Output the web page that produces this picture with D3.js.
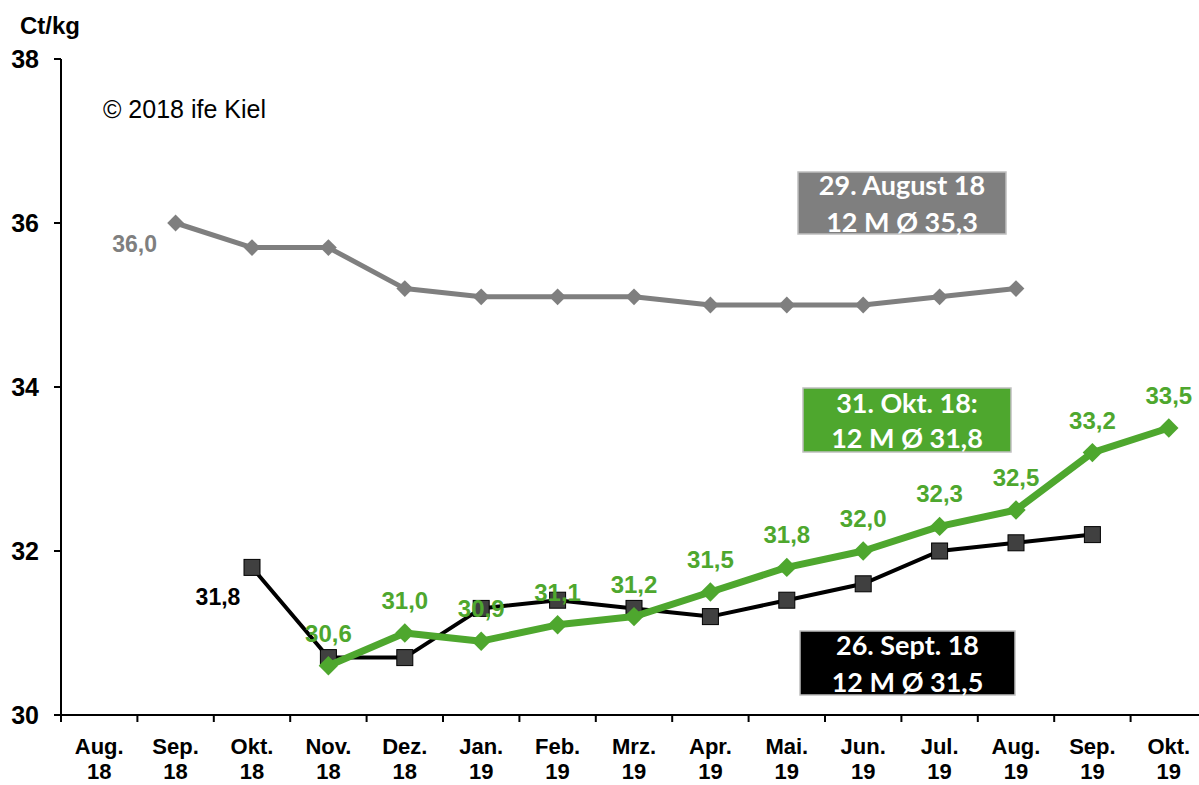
<!DOCTYPE html>
<html>
<head>
<meta charset="utf-8">
<script src="https://cdn.jsdelivr.net/npm/d3@7"></script>
<style>
  body { margin: 0; background: #fff; }
  svg { display: block; font-family: "Liberation Sans", Arial, sans-serif; }
</style>
</head>
<body>
<div id="chart"></div>
<script>
// chart size
let width = 1199
let height = 785

// categories and series (Ct/kg)
let months = ["Aug. 18", "Sep. 18", "Okt. 18", "Nov. 18", "Dez. 18", "Jan. 19", "Feb. 19", "Mrz. 19",
  "Apr. 19", "Mai. 19", "Jun. 19", "Jul. 19", "Aug. 19", "Sep. 19", "Okt. 19"]
let augustValues = [null, 36.0, 35.7, 35.7, 35.2, 35.1, 35.1, 35.1, 35.0, 35.0, 35.0, 35.1, 35.2, null, null]
let septValues = [null, null, 31.8, 30.7, 30.7, 31.3, 31.4, 31.3, 31.2, 31.4, 31.6, 32.0, 32.1, 32.2, null]
let oktValues = [null, null, null, 30.6, 31.0, 30.9, 31.1, 31.2, 31.5, 31.8, 32.0, 32.3, 32.5, 33.2, 33.5]
let yTicks = [30, 32, 34, 36, 38]

let fmt = v => d3.format(".1f")(v).replace(".", ",")

let svg = d3.select("#chart")
  .append("svg")
  .attr("width", width)
  .attr("height", height)

let x = d3.scaleBand().domain(months).range([61, 1207])
let y = d3.scaleLinear().domain([30, 38]).range([715, 59])
let cx = m => x(m) + x.bandwidth() / 2

// y axis
svg.append("line")
  .attr("x1", 61).attr("x2", 61)
  .attr("y1", y(38)).attr("y2", y(30) + 7)
  .attr("stroke", "#000").attr("stroke-width", 2)
svg.selectAll(".ytick")
  .data(yTicks)
  .enter()
  .append("line")
  .attr("x1", 54).attr("x2", 61)
  .attr("y1", d => y(d)).attr("y2", d => y(d))
  .attr("stroke", "#000").attr("stroke-width", 2)
svg.selectAll(".ylab")
  .data(yTicks)
  .enter()
  .append("text")
  .attr("x", 39).attr("y", d => y(d) + 9)
  .attr("text-anchor", "end")
  .attr("font-size", 25).attr("font-weight", "bold")
  .text(d => d)

svg.append("text")
  .attr("x", 20).attr("y", 34)
  .attr("font-size", 24).attr("font-weight", "bold")
  .text("Ct/kg")

// x axis
svg.append("line")
  .attr("x1", 61).attr("x2", width)
  .attr("y1", y(30)).attr("y2", y(30))
  .attr("stroke", "#000").attr("stroke-width", 2)
svg.selectAll(".xtick")
  .data(months)
  .enter()
  .append("line")
  .attr("x1", d => x(d)).attr("x2", d => x(d))
  .attr("y1", y(30)).attr("y2", y(30) + 7)
  .attr("stroke", "#000").attr("stroke-width", 2)
// two-line month labels, one text per line
svg.selectAll(".xlab1")
  .data(months)
  .enter()
  .append("text")
  .attr("x", d => cx(d)).attr("y", 754)
  .attr("text-anchor", "middle")
  .attr("font-size", 22).attr("font-weight", "bold")
  .text(d => d.split(" ")[0])
svg.selectAll(".xlab2")
  .data(months)
  .enter()
  .append("text")
  .attr("x", d => cx(d)).attr("y", 779)
  .attr("text-anchor", "middle")
  .attr("font-size", 22).attr("font-weight", "bold")
  .text(d => d.split(" ")[1])

// copyright
svg.append("text")
  .attr("x", 103).attr("y", 118)
  .attr("font-size", 25)
  .text("\u00A9 2018 ife Kiel")

let line = d3.line()
  .defined(d => d.v != null)
  .x(d => cx(d.m))
  .y(d => y(d.v))

let toPts = vals => vals.map((v, i) => ({ m: months[i], v: v }))
let diamond = d3.symbol().type(d3.symbolDiamond2)

// August series (gray)
let gPts = toPts(augustValues)
svg.append("path")
  .attr("d", line(gPts))
  .attr("fill", "none").attr("stroke", "#7f7f7f").attr("stroke-width", 5)
  .attr("stroke-linejoin", "round")
svg.selectAll(".gmark")
  .data(gPts.filter(d => d.v != null))
  .enter()
  .append("path")
  .attr("d", diamond.size(180)())
  .attr("transform", d => "translate(" + cx(d.m) + "," + y(d.v) + ")")
  .attr("fill", "#7f7f7f")

// September series (black)
let bPts = toPts(septValues)
svg.append("path")
  .attr("d", line(bPts))
  .attr("fill", "none").attr("stroke", "#000").attr("stroke-width", 4)
svg.selectAll(".bmark")
  .data(bPts.filter(d => d.v != null))
  .enter()
  .append("rect")
  .attr("x", d => cx(d.m) - 8).attr("y", d => y(d.v) - 8)
  .attr("width", 16).attr("height", 16)
  .attr("fill", "#404040").attr("stroke", "#000").attr("stroke-width", 1)

// October series (green)
let oPts = toPts(oktValues)
svg.append("path")
  .attr("d", line(oPts))
  .attr("fill", "none").attr("stroke", "#4ea72e").attr("stroke-width", 7)
  .attr("stroke-linejoin", "round")
svg.selectAll(".omark")
  .data(oPts.filter(d => d.v != null))
  .enter()
  .append("path")
  .attr("d", diamond.size(240)())
  .attr("transform", d => "translate(" + cx(d.m) + "," + y(d.v) + ")")
  .attr("fill", "#4ea72e")

// green value labels
svg.selectAll(".olab")
  .data(oPts.filter(d => d.v != null))
  .enter()
  .append("text")
  .attr("x", d => cx(d.m)).attr("y", d => y(d.v) - 24)
  .attr("text-anchor", "middle")
  .attr("font-size", 24).attr("font-weight", "bold")
  .attr("fill", "#4ea72e")
  .text(d => fmt(d.v))

// first-value labels of gray and black series
svg.append("text")
  .attr("x", cx(months[1]) - 41).attr("y", y(augustValues[1]) + 29)
  .attr("text-anchor", "middle")
  .attr("font-size", 23).attr("font-weight", "bold")
  .attr("fill", "#7f7f7f")
  .text(fmt(augustValues[1]))
svg.append("text")
  .attr("x", cx(months[2]) - 34).attr("y", y(septValues[2]) + 38)
  .attr("text-anchor", "middle")
  .attr("font-size", 23).attr("font-weight", "bold")
  .attr("fill", "#000")
  .text(fmt(septValues[2]))

// legend boxes
let boxes = [
  { x: 798, y: 172, w: 208, h: 62, fill: "#7f7f7f", l1: "29. August 18", l2: "12 M \u00D8 35,3", b1: 23, b2: 60 },
  { x: 803, y: 388, w: 208, h: 64, fill: "#4ea72e", l1: "31. Okt. 18:", l2: "12 M \u00D8 31,8", b1: 25, b2: 60 },
  { x: 800, y: 631, w: 215, h: 64, fill: "#000", l1: "26. Sept. 18", l2: "12 M \u00D8 31,5", b1: 24, b2: 61 }
]
let bx = svg.selectAll(".box")
  .data(boxes)
  .enter()
  .append("g")
bx.append("rect")
  .attr("x", d => d.x).attr("y", d => d.y)
  .attr("width", d => d.w).attr("height", d => d.h)
  .attr("fill", d => d.fill)
  .attr("stroke", "#bfbfbf").attr("stroke-width", 1.5)
let bt = bx.append("text")
  .attr("text-anchor", "middle")
  .attr("fill", "#fff")
  .attr("font-family", "Lato, 'Open Sans', sans-serif")
  .attr("font-size", 27).attr("font-weight", "bold")
bt.append("tspan").attr("x", d => d.x + d.w / 2).attr("y", d => d.y + d.b1).text(d => d.l1)
bt.append("tspan").attr("x", d => d.x + d.w / 2).attr("y", d => d.y + d.b2).text(d => d.l2)
</script>
</body>
</html>
